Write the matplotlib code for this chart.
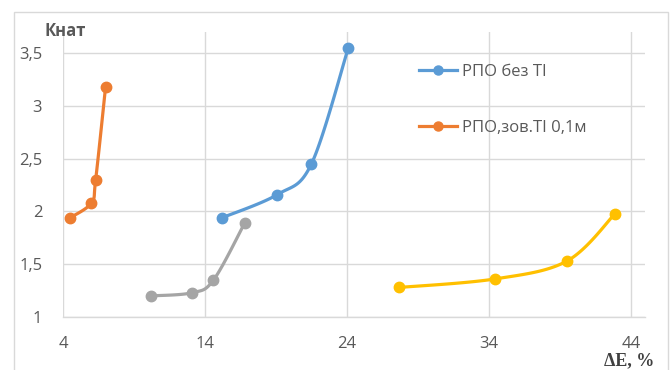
import numpy as np
import matplotlib
matplotlib.use("Agg")
import matplotlib.pyplot as plt
from matplotlib.patches import Rectangle

# Series data: ΔE (%) vs Кнат
blue_x = [15.2, 19.1, 21.5, 24.1]
blue_y = [1.94, 2.16, 2.45, 3.55]
orange_x = [4.5, 6.0, 6.3, 7.0]
orange_y = [1.94, 2.08, 2.30, 3.18]
gray_x = [10.2, 13.1, 14.6, 16.8]
gray_y = [1.20, 1.23, 1.35, 1.89]
yellow_x = [27.7, 34.4, 39.5, 42.9]
yellow_y = [1.28, 1.36, 1.53, 1.98]

legend_labels = ["РПО без TI", "РПО,зов.TI 0,1м"]
x_ticks = [4, 14, 24, 34, 44]
y_ticks = [1, 1.5, 2, 2.5, 3, 3.5]

TXT = "#595959"
GRID = "#d9d9d9"
FAM = ["Open Sans", "DejaVu Sans"]


def smooth(xs, ys, n=40):
    """Catmull-Rom spline through the points (smoothed line)."""
    P = np.column_stack([xs, ys]).astype(float)
    P = np.vstack([P[0], P, P[-1]])
    out = []
    for i in range(1, len(P) - 2):
        p0, p1, p2, p3 = P[i - 1], P[i], P[i + 1], P[i + 2]
        c1 = p1 + (p2 - p0) / 6.0
        c2 = p2 - (p3 - p1) / 6.0
        s = np.linspace(0, 1, n)[:, None]
        seg = ((1 - s) ** 3) * p1 + 3 * ((1 - s) ** 2) * s * c1 + 3 * (1 - s) * s ** 2 * c2 + s ** 3 * p2
        out.append(seg if i == 1 else seg[1:])
    pts = np.vstack(out)
    return pts[:, 0], pts[:, 1]


fig = plt.figure(figsize=(6.72, 3.70), dpi=100)
fig.patches.append(Rectangle((14 / 672, -0.1), (668 - 14) / 672, 1.1 - 12 / 370,
                             transform=fig.transFigure, fill=False,
                             edgecolor=GRID, linewidth=1.0))

ax = fig.add_axes([63 / 672, 1 - 317 / 370, (645 - 63) / 672, (317 - 32) / 370])
ax.set_xlim(4, 45)
ax.set_ylim(1, 3.7)
ax.set_xticks(x_ticks)
ax.set_yticks(y_ticks)
ax.set_xticklabels([str(v) for v in x_ticks])
ax.set_yticklabels([f"{v:g}".replace(".", ",") for v in y_ticks])
ax.grid(True, color=GRID, linewidth=1.0)
ax.set_axisbelow(True)
for s in ["top", "right", "left"]:
    ax.spines[s].set_visible(False)
ax.spines["bottom"].set_color(GRID)
ax.spines["bottom"].set_linewidth(1.0)
ax.tick_params(axis="x", length=0, labelsize=12, labelcolor=TXT, pad=14)
ax.tick_params(axis="y", length=0, labelsize=12, labelcolor=TXT, pad=15)
for lab in ax.get_xticklabels() + ax.get_yticklabels():
    lab.set_family(FAM)

series = [
    (blue_x, blue_y, "#5B9BD5", legend_labels[0]),
    (orange_x, orange_y, "#ED7D31", legend_labels[1]),
    (gray_x, gray_y, "#A5A5A5", None),
    (yellow_x, yellow_y, "#FFC000", None),
]
handles = []
for xs, ys, col, lab in series:
    sx, sy = smooth(xs, ys)
    ax.plot(sx, sy, color=col, linewidth=2.3, solid_capstyle="round", zorder=3)
    ax.plot(xs, ys, linestyle="none", marker="o", markersize=7.5, color=col, zorder=4)
    if lab:
        h, = ax.plot([], [], color=col, linewidth=2.3, marker="o", markersize=6.5, label=lab)
        handles.append(h)

leg = fig.legend(handles=handles, loc="center left",
                 bbox_to_anchor=(419 / 672, 1 - 100 / 370),
                 frameon=False, labelcolor=TXT, handlelength=2.3,
                 handletextpad=0.3, labelspacing=2.4, borderpad=0, borderaxespad=0,
                 prop={"family": FAM, "size": 12})

fig.text(45 / 672, 1 - 31 / 370, "Кнат", fontsize=12, fontweight="bold", color=TXT,
         family=FAM, va="center", ha="left")
fig.text(629 / 672, 1 - 361 / 370, "ΔE, %", fontsize=13, fontweight="bold", color="#404040",
         family=["Liberation Serif", "DejaVu Serif"], va="center", ha="center")

fig.savefig("out.png", dpi=100)
